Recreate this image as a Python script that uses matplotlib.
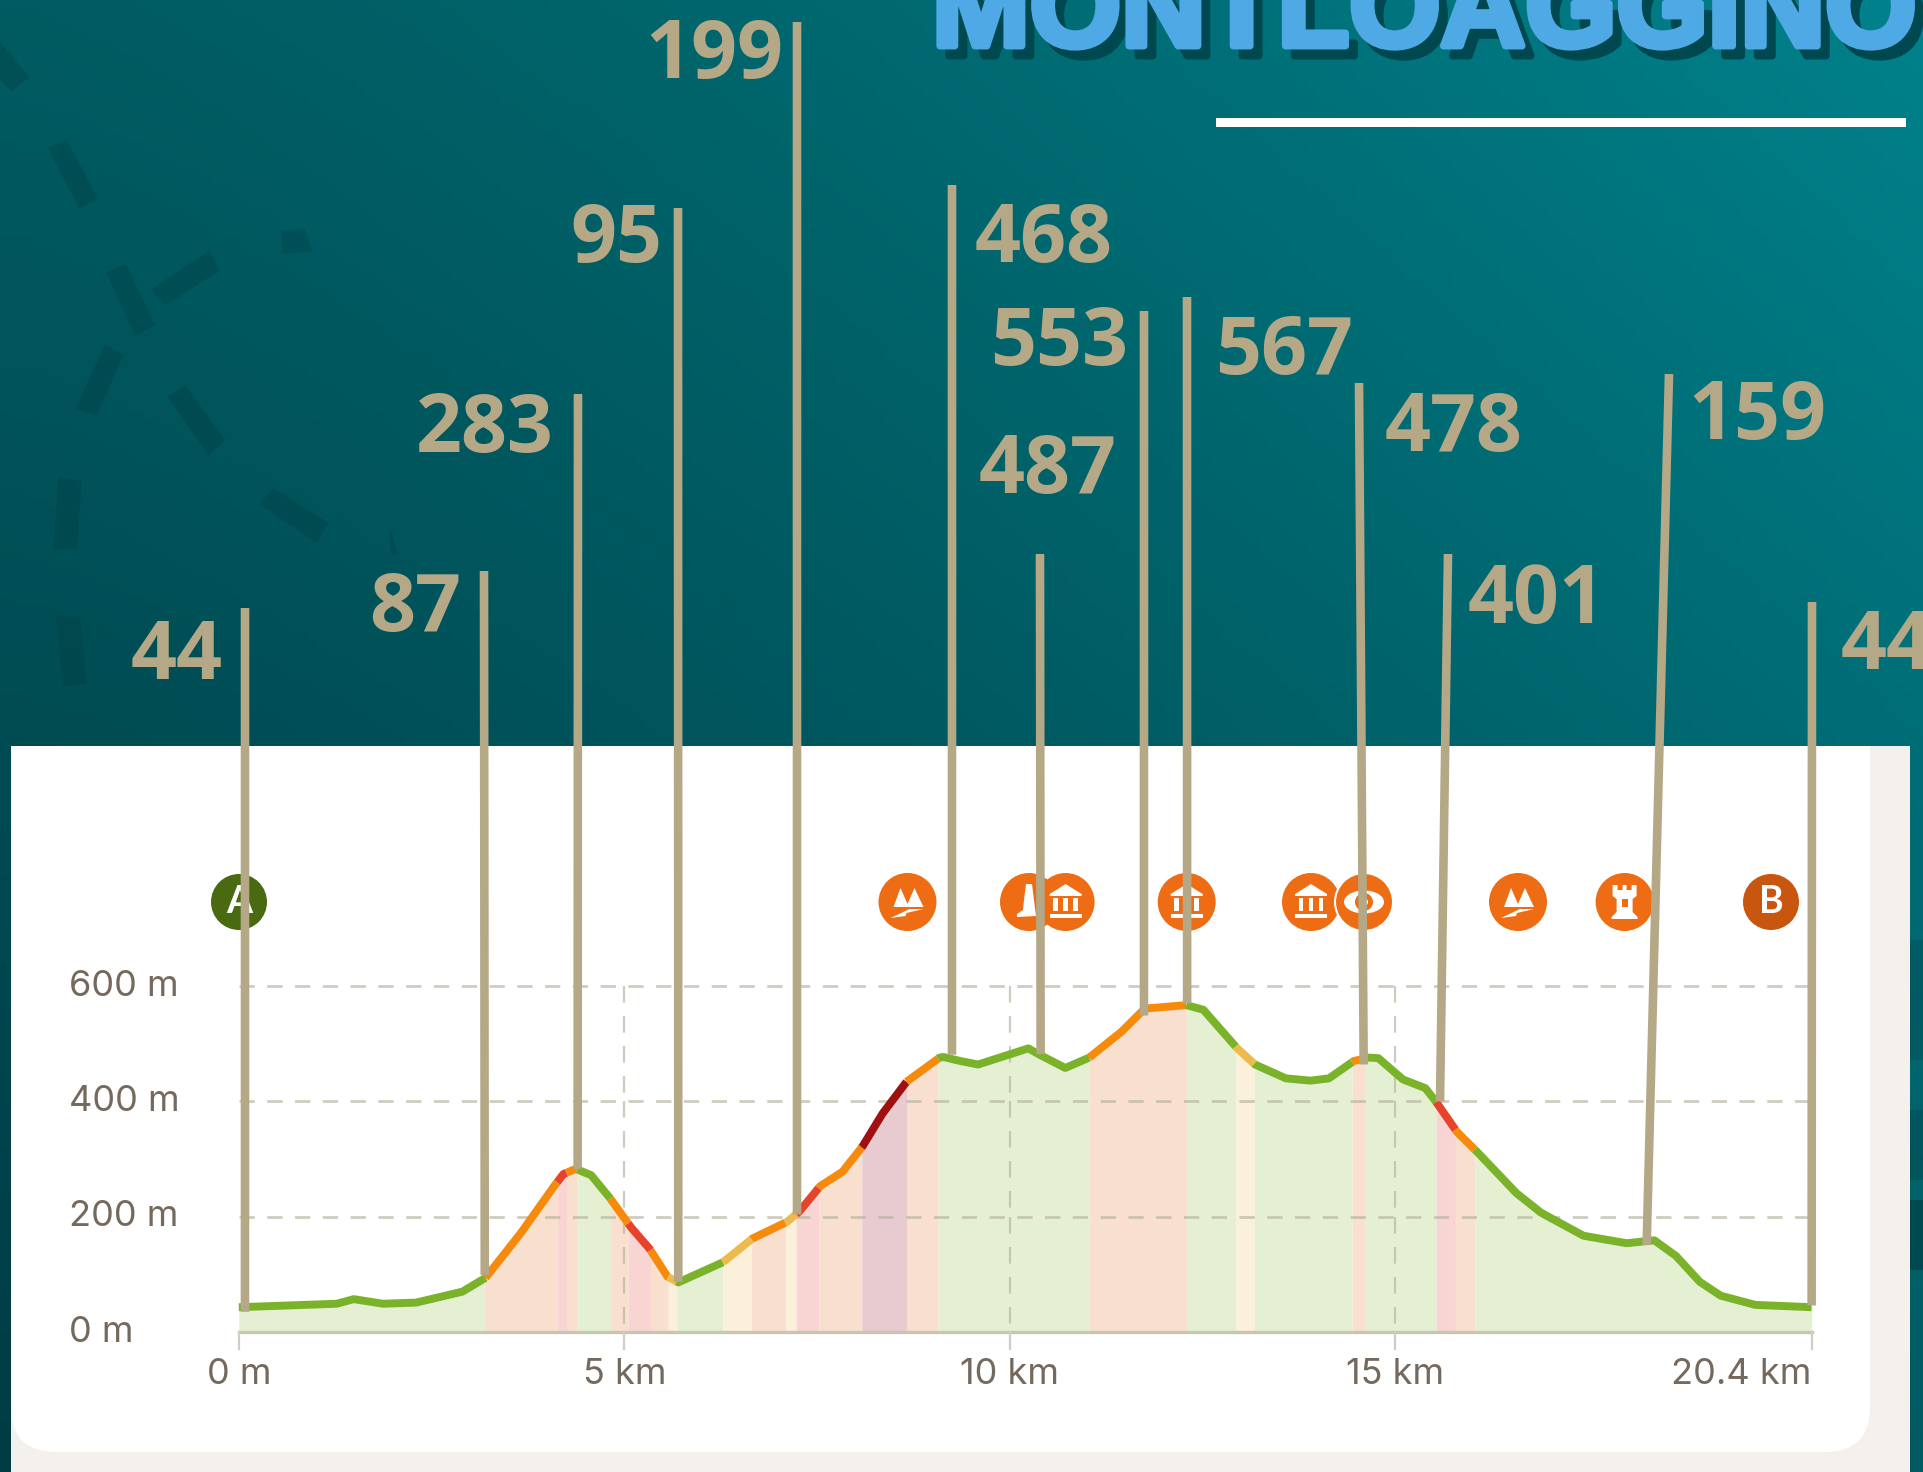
import numpy as np
import matplotlib
matplotlib.use("Agg")
import matplotlib.pyplot as plt
from matplotlib.patches import Circle, Polygon, Rectangle, FancyBboxPatch, Ellipse
from matplotlib.colors import to_rgb
import matplotlib.patheffects as pe

# Elevation profile
profile_km = [0, 1.27, 1.49, 1.87, 2.3, 2.9, 3.2, 3.66, 4.09, 4.21, 4.37, 4.57, 4.81, 5.09, 5.33, 5.56,
              5.7, 6.28, 6.66, 7.11, 7.27, 7.54, 7.83, 8.09, 8.35, 8.66, 9.09, 9.14, 9.36, 9.59, 10.24,
              10.4, 10.72, 11.03, 11.45, 11.75, 12.29, 12.51, 12.95, 13.18, 13.58, 13.9, 14.14, 14.46,
              14.66, 14.78, 15.1, 15.39, 15.53, 15.8, 16.05, 16.57, 16.89, 17.44, 18.0, 18.36, 18.64,
              18.95, 19.22, 19.67, 20.4]
profile_m = [43, 49, 57, 49, 51, 70, 94, 172, 253, 274, 283, 272, 233, 181, 144, 96,
             86, 121, 162, 191, 209, 253, 278, 322, 379, 434, 476, 477, 470, 464, 492,
             480, 458, 476, 521, 561, 567, 559, 492, 464, 440, 436, 440, 470,
             476, 475, 438, 423, 399, 347, 314, 241, 207, 167, 154, 159, 132,
             87, 63, 47, 43]

# Slope bands: upper end of each band in km, and its class
band_ends = [3.2, 4.13, 4.25, 4.39, 4.82, 5.05, 5.34, 5.57, 5.68, 6.28, 6.65, 7.09, 7.23, 7.52, 8.08,
             8.66, 9.07, 11.03, 12.29, 12.93, 13.17, 14.44, 14.6, 15.53, 15.78, 16.03, 20.4]
band_class = ["g", "o", "r", "o", "g", "o", "r", "o", "y", "g", "y", "o", "y", "r", "o",
              "d", "o", "g", "o", "g", "y", "g", "o", "g", "r", "o", "g"]
line_colors = {"g": "#7AB32A", "o": "#F58A0B", "r": "#E5432A", "y": "#EDBB4D", "d": "#A01010"}
fill_colors = {"g": "#E5F0D3", "o": "#F9E0CE", "r": "#F8D5D3", "y": "#FBF0DA", "d": "#E8CBD0"}

y_ticks = [0, 200, 400, 600]
y_labels = ["0 m", "200 m", "400 m", "600 m"]
x_ticks = [0, 5, 10, 15, 20.4]
x_labels = ["0 m", "5 km", "10 km", "15 km", "20.4 km"]

# Leader lines with their numbers
leader_values = ["44", "87", "283", "95", "199", "468", "487", "553", "567", "478", "401", "159", "44"]
leader_km = [0.08, 3.19, 4.395, 5.70, 7.24, 9.25, 10.4, 11.74, 12.30, 14.59, 15.58, 18.26, 20.4]
leader_m = [35, 99, 283, 87, 204, 481, 482, 549, 570, 464, 400, 151, 46]
leader_top_x = [245, 484, 578, 678, 797, 952, 1040, 1144, 1187, 1359, 1448, 1669, 1812]
leader_top_y = [608, 571, 394, 208, 22, 185, 554, 311, 297, 383, 554, 374, 602]
label_x = [177, 415, 485, 616, 714, 1044, 1048, 1059, 1284, 1454, 1537, 1757, 1887]
label_y = [658, 610, 431, 241, 57, 241, 472, 344, 353, 430, 602, 418, 648]

tan = "#B5A886"
W, H = 1923, 1472
fig = plt.figure(figsize=(W / 100, H / 100), dpi=100)

# background, pixel coordinates
bg = fig.add_axes([0, 0, 1, 1], zorder=0)
bg.set_xlim(0, W)
bg.set_ylim(H, 0)
bg.axis("off")
xx, yy = np.meshgrid(np.linspace(0, 1, 200) ** 1.35, np.linspace(0, 1, 200))
tl, tr, bl, br = [np.array(to_rgb(c)) for c in ("#005C62", "#00828C", "#003C44", "#005A62")]
grad = ((1 - xx) * (1 - yy))[..., None] * tl + (xx * (1 - yy))[..., None] * tr \
    + ((1 - xx) * yy)[..., None] * bl + (xx * yy)[..., None] * br
bg.imshow(grad, extent=[0, W, H, 0], aspect="auto", zorder=0)

# dark dashes of the background pattern
dashes = [[(0, 85), (88, 160), (35, 188), (0, 165)], [(143, 305), (200, 287), (293, 408), (238, 432)],
          [(318, 562), (378, 545), (465, 670), (405, 693)], [(452, 597), (628, 517), (660, 558), (495, 630)],
          [(843, 478), (915, 473), (937, 520), (847, 523)], [(228, 843), (315, 710), (370, 733), (290, 857)],
          [(503, 818), (556, 795), (675, 908), (625, 940)], [(175, 985), (245, 992), (232, 1133), (160, 1133)],
          [(778, 1040), (820, 1008), (985, 1078), (950, 1120)], [(167, 1272), (240, 1272), (260, 1410), (190, 1417)],
          [(1168, 1098), (1175, 1098), (1192, 1143), (1175, 1145)]]
for d in dashes:
    bg.add_patch(Polygon([(x / 3, y / 2.063) for x, y in d], fc="#00393F", alpha=0.3, ec="none", zorder=1))

# leaf shapes on the right strip
for y1, y2, a in ((940, 1060, 0.25), (1110, 1180, 0.3), (1200, 1270, 0.6)):
    bg.add_patch(Rectangle((1910, y1), 13, y2 - y1, fc="#003A42", alpha=a, ec="none", zorder=1))

# white rule and title
bg.add_patch(Rectangle((1216, 118), 690, 8.5, fc="white", ec="none", zorder=1))
title = "MONTLOAGGINO"
for dx, col in ((9, "#00484F"), (0, "#4FA9E4")):
    bg.text(932 + dx, 46 + 10 * (dx > 0), title, family="Liberation Sans", weight="bold",
            fontsize=84.5, color=col, ha="left", va="baseline", zorder=2,
            path_effects=[pe.withStroke(linewidth=5, foreground=col)])

# beige card with white panel
bg.add_patch(Rectangle((11, 746), 1899, 726, fc="#F4F0EB", ec="none", zorder=3))
bg.add_patch(Rectangle((11, 746), 1859, 300, fc="white", ec="none", zorder=3))
bg.add_patch(FancyBboxPatch((11 + 45, 800 + 45), 1859 - 90, 652 - 90, boxstyle="round,pad=45,rounding_size=45",
                            fc="white", ec="none", zorder=3))

# chart axes fill the figure, limits set so the scale falls on the picture
km_px, m_px = 77.1, 0.5765
x0_px, y0_px = 238.8, 1332
ax = fig.add_axes([0, 0, 1, 1], zorder=1, facecolor="none")
ax.set_xlim(-x0_px / km_px, (W - x0_px) / km_px)
ax.set_ylim(-(H - y0_px) / m_px, y0_px / m_px)
ax.axis("off")

km = np.array(profile_km)
m = np.array(profile_m)
start = 0
for end, c in zip(band_ends, band_class):
    inner = km[(km > start) & (km < end)]
    xs = np.r_[start, inner, end]
    ys = np.interp(xs, km, m)
    ax.fill_between(xs, 0, ys, color=fill_colors[c], lw=0, zorder=1)
    ax.plot(xs, ys, color=line_colors[c], lw=5.7, solid_capstyle="butt", solid_joinstyle="round", zorder=4)
    start = end

grid_c = "#B5B19F"
for t in y_ticks[1:]:
    ax.plot([0, 20.4], [t, t], color=grid_c, alpha=0.65, lw=2, dashes=(5.5, 4.5), zorder=2)
for t in x_ticks[1:-1]:
    # each stretch starts its own dash pattern at a grid line
    for hi, lo in zip(y_ticks[:0:-1], y_ticks[-2::-1]):
        ax.plot([t, t], [hi, lo], color=grid_c, alpha=0.65, lw=1.6, dashes=(7.5, 6), zorder=2)
ax.plot([0, 20.4], [0, 0], color="#C7C6B4", lw=2.4, zorder=3)
for t in x_ticks:
    ax.plot([t, t], [0, -30], color="#CFCDC4", lw=1.6, zorder=3)

text_c = "#75695E"
for t, lab in zip(y_ticks, y_labels):
    ax.text(-2.2, t, lab, fontsize=26, family="Inter", color=text_c, ha="left", va="center", zorder=5)
for t, lab in zip(x_ticks, x_labels):
    ax.text(t, -73, lab, fontsize=26, family="Inter", color=text_c, ha="right" if t > 20 else "center", va="center", zorder=5)

# overlay in pixels for icons, leaders and numbers
top = fig.add_axes([0, 0, 1, 1], zorder=2, facecolor="none")
top.set_xlim(0, W)
top.set_ylim(H, 0)
top.axis("off")
orange = "#EE6C14"


def shape(cx, cy, pts):
    top.add_patch(Polygon([(cx + a, cy + b) for a, b in pts], fc="white", ec="none", zorder=7))


def museum(cx, cy):
    shape(cx, cy, [(-16, -8), (0, -18), (16, -8), (16, -6), (-16, -6)])
    for dx in (-12.3, -2.3, 7.7):
        top.add_patch(Rectangle((cx + dx, cy - 4), 4.6, 13, fc="white", ec="none", zorder=7))
    top.add_patch(Rectangle((cx - 16, cy + 12), 32, 4, fc="white", ec="none", zorder=7))


def mountain(cx, cy):
    shape(cx, cy, [(-14, 5), (-7, -14), (0, 2), (7, -14), (16, 5)])
    shape(cx, cy, [(-17, 16), (2, 7), (16, 7), (-1, 11), (-2, 14)])


def eye(cx, cy):
    top.add_patch(Ellipse((cx, cy), 40, 23, fc="white", ec="none", zorder=7))
    top.add_patch(Circle((cx, cy), 9, fc=orange, ec="none", zorder=7))
    top.add_patch(Circle((cx, cy), 4, fc="white", ec="none", zorder=7))


def tower(cx, cy):
    shape(cx, cy, [(-12, -17), (-7, -17), (-7, -12), (-2, -12), (-2, -17), (2, -17), (2, -12), (7, -12), (7, -17),
                   (12, -17), (12, -6), (8, -3), (8, 10), (13, 15), (13, 17), (-13, 17), (-13, 15), (-8, 10), (-8, -3), (-12, -6)])
    top.add_patch(Rectangle((cx - 3, cy - 3), 6, 8, fc=orange, ec="none", zorder=7))


def monument(cx, cy):
    shape(cx, cy, [(-3, -18), (3, -18), (7, 14), (-12, 15), (-12, 12), (-6, 8), (-5, -2)])


icon_y = 902
icons = [(1029, monument), (907.5, mountain), (1186.7, museum), (1311, museum), (1518, mountain), (1624.6, tower)]
for cx, fn in icons:
    top.add_patch(Circle((cx, icon_y), 29, fc=orange, ec="none", zorder=5))
    fn(cx, icon_y)
# museum and eye sit over their neighbours
top.add_patch(Circle((1065.6, icon_y), 29, fc=orange, ec="none", zorder=6))
museum(1065.6, icon_y)
top.add_patch(Circle((1364, icon_y), 29, fc=orange, ec="white", lw=1.5, zorder=6))
eye(1364, icon_y)
top.add_patch(Circle((239, icon_y), 28, fc="#4A6A12", ec="none", zorder=5))
top.text(239, icon_y, "A", color="white", fontsize=27, family="Lato", weight="bold", ha="center", va="center", zorder=7)
top.add_patch(Circle((1771, icon_y), 28, fc="#C8560E", ec="none", zorder=5))
top.text(1771, icon_y, "B", color="white", fontsize=27, family="Lato", weight="bold", ha="center", va="center", zorder=7)

for val, k, e, tx, ty, lx, ly in zip(leader_values, leader_km, leader_m, leader_top_x, leader_top_y, label_x, label_y):
    px, py = ax.transData.transform((k, e))
    top.plot([tx, px], [ty, H - py], color=tan, lw=6.2, solid_capstyle="butt", zorder=8)
    top.text(lx, ly, val, color=tan, fontsize=58, family="Open Sans", weight="bold", ha="center", va="center", zorder=9, clip_on=False)

fig.savefig("out.png", dpi=100)
